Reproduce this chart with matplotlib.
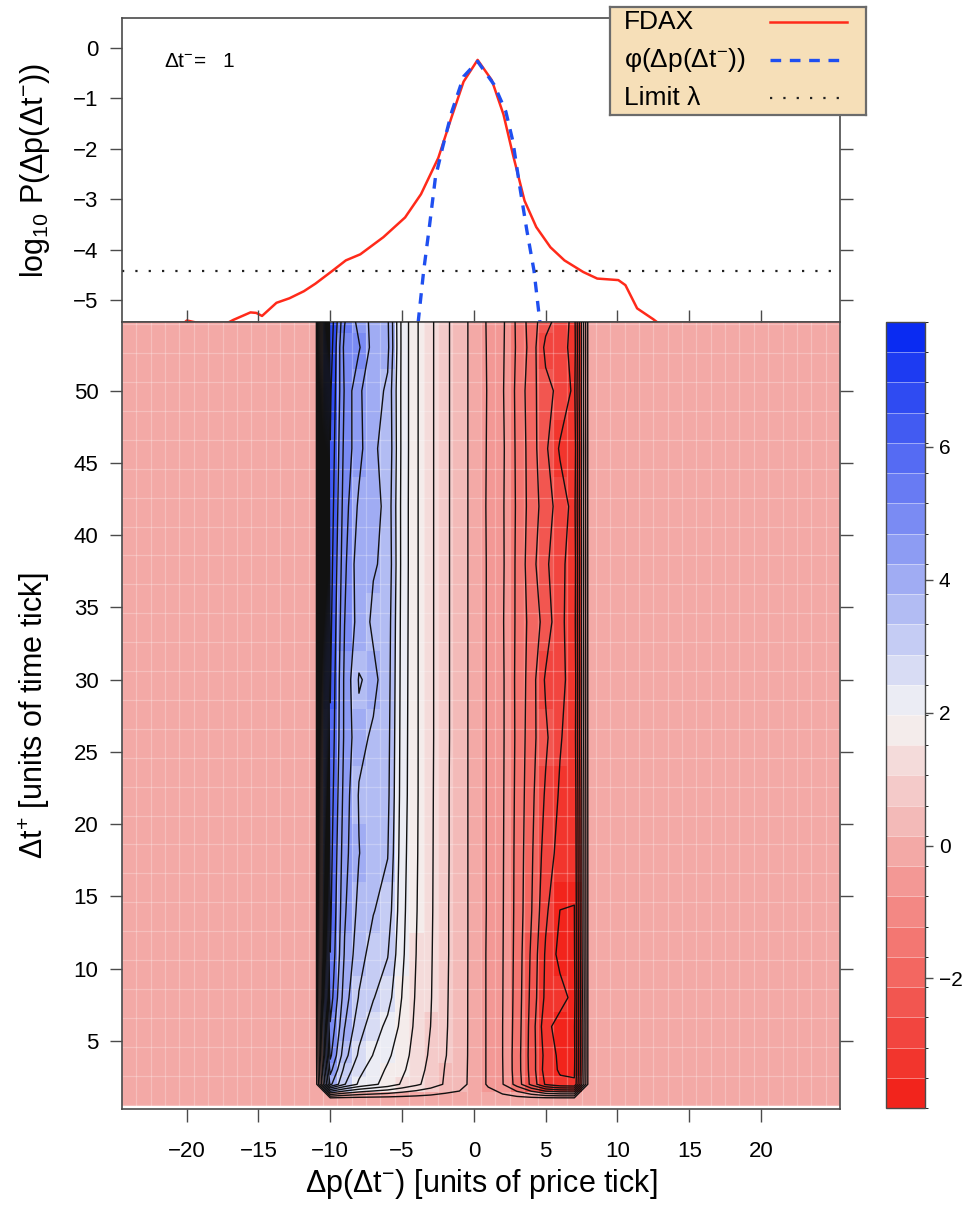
import numpy as np
import matplotlib
matplotlib.use("Agg")
import matplotlib.pyplot as plt
from matplotlib.colors import LinearSegmentedColormap, BoundaryNorm

plt.rcParams['font.family'] = ['Liberation Sans', 'DejaVu Sans']
plt.rcParams['mathtext.fontset'] = 'custom'
plt.rcParams['mathtext.rm'] = 'Liberation Sans'
plt.rcParams['mathtext.it'] = 'Liberation Sans:italic'
plt.rcParams['mathtext.bf'] = 'Liberation Sans:bold'

# ---- top panel: log10 P(dp) ----
fdax_dp = [-21.0, -19.8, -19.0, -18.0, -16.6, -15.4, -15.0, -14.6, -13.6, -12.7,
           -11.7, -10.9, -9.7, -8.8, -7.8, -6.2, -4.7, -3.6, -2.4, -1.5,
           -0.65, 0.32, 1.3, 2.11, 2.76, 3.57, 4.38, 5.36, 6.33, 7.63,
           8.6, 10.06, 10.55, 11.36, 12.5, 13.5]
fdax_logp = [-5.7, -5.40, -5.45, -5.6, -5.39, -5.24, -5.25, -5.31, -5.05, -4.96,
             -4.82, -4.67, -4.41, -4.21, -4.09, -3.75, -3.36, -2.90, -2.18, -1.39,
             -0.67, -0.24, -0.64, -1.32, -2.11, -3.03, -3.55, -3.95, -4.21, -4.44,
             -4.57, -4.60, -4.70, -5.16, -5.38, -5.6]
phi_dp = [-3.8, -3.41, -3.02, -2.6, -2.11, -1.46, -0.65, 0.32,
          1.46, 2.27, 2.76, 3.25, 3.73, 4.22, 4.64]
phi_logp = [-5.45, -4.41, -3.55, -2.57, -1.98, -1.26, -0.57, -0.27,
            -0.73, -1.26, -1.85, -2.77, -3.62, -4.41, -5.45]
limit_lambda = -4.42
legend_labels = ['FDAX', 'φ(Δp(Δt$^{-}$))', 'Limit λ']

# ---- bottom panel: level field ----
dp_grid = np.arange(-24, 26)
active_dp = np.arange(-10, 8)
dt_rows = [1, 2, 3, 4, 6, 8, 11, 14, 18, 22, 26, 30, 34, 38, 42, 46, 50, 53, 55]
background = -0.1
# values for dp = -10 .. 7, one row per dt_rows[1:]
field_rows = [
    [3.9, 2.9, 2.35, 2.05, 1.8, 1.45, 1.15, 0.85, 0.55, 0.36, -0.05, -0.36, -0.74, -1.40, -2.25, -3.10, -3.40, -3.45],
    [4.4, 3.2, 2.55, 2.2, 1.9, 1.6, 1.25, 0.92, 0.58, 0.38, -0.05, -0.36, -0.75, -1.45, -2.30, -3.25, -3.55, -3.55],
    [4.8, 3.5, 2.8, 2.4, 2.05, 1.7, 1.32, 0.98, 0.62, 0.40, -0.05, -0.36, -0.76, -1.45, -2.32, -3.20, -3.60, -3.60],
    [5.1, 3.8, 3.05, 2.65, 2.3, 1.85, 1.40, 1.05, 0.64, 0.41, -0.05, -0.36, -0.76, -1.42, -2.30, -3.35, -3.70, -3.55],
    [5.4, 4.0, 3.3, 2.9, 2.6, 1.95, 1.45, 1.08, 0.65, 0.41, -0.05, -0.36, -0.75, -1.40, -2.25, -3.15, -3.30, -3.65],
    [5.6, 4.2, 3.5, 3.15, 2.9, 2.05, 1.50, 1.10, 0.66, 0.42, -0.05, -0.36, -0.74, -1.38, -2.20, -3.10, -3.65, -3.55],
    [5.7, 4.3, 3.65, 3.35, 3.15, 2.10, 1.53, 1.12, 0.66, 0.42, -0.05, -0.35, -0.73, -1.36, -2.10, -2.95, -3.50, -3.50],
    [5.8, 4.4, 3.8, 3.5, 3.35, 2.15, 1.55, 1.13, 0.67, 0.42, -0.05, -0.35, -0.72, -1.35, -2.05, -2.80, -3.20, -3.45],
    [5.9, 4.5, 3.75, 3.65, 3.45, 2.20, 1.56, 1.14, 0.67, 0.42, -0.05, -0.35, -0.71, -1.33, -2.00, -2.65, -3.10, -3.40],
    [6.0, 4.6, 3.9, 3.72, 3.50, 2.22, 1.56, 1.15, 0.68, 0.42, -0.05, -0.35, -0.70, -1.31, -1.95, -2.50, -3.00, -3.30],
    [6.1, 4.6, 3.75, 3.9, 3.55, 2.24, 1.56, 1.15, 0.68, 0.42, -0.05, -0.35, -0.70, -1.32, -1.90, -2.65, -2.85, -3.35],
    [6.2, 4.7, 4.05, 3.70, 3.60, 2.26, 1.56, 1.15, 0.68, 0.42, -0.05, -0.35, -0.72, -1.30, -1.85, -2.30, -2.95, -3.25],
    [6.3, 4.8, 3.95, 3.82, 3.70, 2.28, 1.56, 1.15, 0.68, 0.42, -0.05, -0.35, -0.70, -1.30, -1.95, -2.50, -2.90, -3.30],
    [6.4, 4.9, 4.15, 3.95, 3.65, 2.28, 1.56, 1.15, 0.68, 0.42, -0.05, -0.36, -0.71, -1.28, -1.88, -2.35, -2.80, -3.20],
    [6.5, 5.0, 4.4, 3.80, 3.75, 2.30, 1.56, 1.15, 0.68, 0.42, -0.05, -0.35, -0.69, -1.30, -1.90, -2.50, -3.10, -3.30],
    [6.6, 5.1, 4.3, 4.00, 3.70, 2.30, 1.56, 1.15, 0.68, 0.42, -0.05, -0.34, -0.72, -1.32, -1.95, -2.45, -2.70, -3.15],
    [6.8, 5.0, 4.75, 4.05, 3.90, 2.30, 1.56, 1.15, 0.68, 0.42, -0.05, -0.35, -0.70, -1.28, -1.85, -2.70, -2.80, -3.25],
    [6.9, 5.2, 4.5, 4.10, 3.85, 2.30, 1.56, 1.15, 0.68, 0.42, -0.05, -0.36, -0.68, -1.30, -1.90, -2.40, -2.75, -3.20],
]
level_min, level_max, n_bands = -3.95, 7.88, 26
cbar_ticks = [-2, 0, 2, 4, 6]

Z = np.full((len(dt_rows), len(dp_grid)), background)
cols = np.searchsorted(dp_grid, active_dp)
Z[1:, cols[0]:cols[-1] + 1] = np.array(field_rows)

levels = np.linspace(level_min, level_max, n_bands + 1)
cmap = LinearSegmentedColormap.from_list('rwb', ['#F2241C', '#F4F4F4', '#0A2BF2'], N=n_bands)
norm = BoundaryNorm(levels, n_bands)

# ---- layout ----
W, H = 968, 1215
fig = plt.figure(figsize=(W / 100, H / 100), dpi=100)


def box(l, t, r, b):
    return [l / W, 1 - b / H, (r - l) / W, (b - t) / H]


ax_top = fig.add_axes(box(122, 18, 840, 322))
ax = fig.add_axes(box(122, 322, 840, 1109))
cax = fig.add_axes(box(886, 322, 925, 1108))

xlim = (-24.29, 25.40)
frame_col = '#4a4a4a'
tick_fs = 16
label_fs = 22
red, blue, dots = '#FF2A1A', '#1F4FF0', '#222222'
blue_dash = (3.2, 2.6)
dot_dash = (1, 5)

# top panel
ax_top.plot(fdax_dp, fdax_logp, color=red, lw=1.8)
ax_top.plot(phi_dp, phi_logp, color=blue, lw=2.4, dashes=blue_dash)
ax_top.axhline(limit_lambda, color=dots, lw=1.6, dashes=dot_dash)
ax_top.set_xlim(xlim)
ax_top.set_ylim(-5.43, 0.59)
ax_top.set_yticks(range(-5, 1))
ax_top.tick_params(axis='y', direction='out', length=9, width=1, pad=8,
                   labelsize=tick_fs, left=True, right=True, color=frame_col)
ax_top.tick_params(axis='x', bottom=False, labelbottom=False)
ax_top.text(-21.4, -0.27, 'Δt$^{-}$=   1', fontsize=15, va='center', ha='left')
ax_top.set_ylabel(r'log$_{10}$ P(Δp(Δt$^{-}$))', fontsize=label_fs)
ax_top.yaxis.set_label_coords(-0.097, 0.5)

# bottom panel
mesh = ax.pcolormesh(dp_grid, dt_rows, Z, cmap=cmap, norm=norm, shading='nearest', zorder=1)
ax.contour(dp_grid, dt_rows, Z, levels=levels, colors='#111111', linewidths=1.0,
           linestyles='solid', zorder=3)
ax.set_xlim(xlim)
ax.set_ylim(0.29, 54.76)
ax.set_xticks(range(-20, 21, 5))
ax.set_yticks(range(5, 51, 5))
ax.set_xticks(np.arange(-24.5, 26, 1), minor=True)
ax.set_yticks(np.arange(0.6, 55, 2), minor=True)
ax.tick_params(which='minor', length=0)
ax.grid(which='minor', color='white', alpha=0.25, lw=0.9)
ax.tick_params(which='major', direction='out', length=9, width=1, labelsize=tick_fs,
               color=frame_col, top=True, right=True, bottom=True, left=True)
ax.tick_params(axis='x', which='major', pad=14)
ax.tick_params(axis='y', which='major', pad=8)
ax.set_xlabel('Δp(Δt$^{-}$) [units of price tick]', fontsize=label_fs)
ax.xaxis.set_label_coords(0.5, -0.074)
ax.set_ylabel('Δt$^{+}$ [units of time tick]', fontsize=label_fs)
ax.yaxis.set_label_coords(-0.097, 0.5)

for a in (ax_top, ax):
    for s in a.spines.values():
        s.set_color(frame_col)
        s.set_linewidth(1.2)

# colorbar
cb = fig.colorbar(mesh, cax=cax, ticks=cbar_ticks, drawedges=True)
cb.dividers.set_color('white')
cb.dividers.set_linewidth(0.6)
cb.dividers.set_alpha(0.5)
cb.outline.set_edgecolor(frame_col)
cb.outline.set_linewidth(1.0)
cax.tick_params(direction='out', length=6, width=1, pad=4, labelsize=15, color=frame_col)

# legend key (lattice style: text left, line sample right)
lax = fig.add_axes(box(610, 7, 866, 115))
lax.set_facecolor('#F6DFB8')
lax.set_xlim(0, 1)
lax.set_ylim(0, 1)
lax.set_xticks([])
lax.set_yticks([])
for s in lax.spines.values():
    s.set_color('#6b6b6b')
    s.set_linewidth(1.6)
key_styles = [dict(color=red, lw=1.8),
              dict(color=blue, lw=2.4, dashes=blue_dash),
              dict(color=dots, lw=1.6, dashes=dot_dash)]
for i, (lab, st) in enumerate(zip(legend_labels, key_styles)):
    yk = 0.86 - i * 0.352
    lax.text(0.055, yk, lab, fontsize=19, va='center', ha='left')
    lax.plot([0.625, 0.925], [yk, yk], **st)

fig.savefig('out.png', dpi=100)
